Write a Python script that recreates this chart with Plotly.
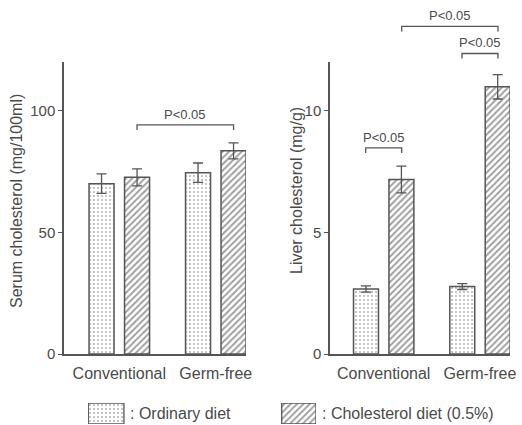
import plotly.graph_objects as go

# ---------------- data ----------------
categories = ["Conventional", "Germ-free"]
serum_ordinary = [70.0, 74.5]
serum_ordinary_err = [4.0, 4.0]
serum_chol = [72.6, 83.5]
serum_chol_err = [3.5, 3.3]
liver_ordinary = [2.67, 2.77]
liver_ordinary_err = [0.13, 0.12]
liver_chol = [7.17, 10.98]
liver_chol_err = [0.55, 0.50]
serum_ticks = [0, 50, 100]
liver_ticks = [0, 5, 10]
legend_labels = [": Ordinary diet", ": Cholesterol diet (0.5%)"]
sig_label = "P<0.05"

# ---------------- style ----------------
W, H = 522, 425
FONT = "Liberation Sans, Arial, sans-serif"
INK = "#4a4a4a"
LINE = "#555555"
DOT_C, HATCH_C = "#666666", "#3a3a3a"
DOTS = dict(shape=".", bgcolor="white", fgcolor=DOT_C, size=4, solidity=0.2)
HATCH = dict(shape="/", bgcolor="white", fgcolor=HATCH_C, size=4.5, solidity=0.4)


def px(x):
    return x / W


def py(y):
    return (H - y) / H


fig = go.Figure()


def add_bars(xa, ya, vals, errs, pattern, name):
    fig.add_trace(go.Bar(
        x=categories, y=vals, name=name, xaxis=xa, yaxis=ya,
        marker=dict(color="white", line=dict(color=LINE, width=1.5), pattern=pattern),
        error_y=dict(type="data", array=errs, visible=True, color=LINE,
                     thickness=1.3, width=5),
        showlegend=False,
    ))


add_bars("x", "y", serum_ordinary, serum_ordinary_err, DOTS, "Ordinary diet")
add_bars("x", "y", serum_chol, serum_chol_err, HATCH, "Cholesterol diet (0.5%)")
add_bars("x2", "y2", liver_ordinary, liver_ordinary_err, DOTS, "Ordinary diet")
add_bars("x2", "y2", liver_chol, liver_chol_err, HATCH, "Cholesterol diet (0.5%)")

# legend swatches drawn as bars on an auxiliary axis
fig.add_trace(go.Bar(
    x=[0, 1], y=[1, 1], width=[0.185, 0.178], xaxis="x3", yaxis="y3",
    marker=dict(color="white", line=dict(color=LINE, width=1.3),
                pattern=dict(shape=[".", "/"], bgcolor="white",
                             fgcolor=[DOT_C, HATCH_C], size=[4, 4.5],
                             solidity=[0.2, 0.4])),
    showlegend=False, hoverinfo="skip",
))

ydom = [py(354), py(62)]
axis_common = dict(showgrid=False, zeroline=False, showline=True,
                   linecolor=LINE, linewidth=1.5)
fig.update_layout(
    width=W, height=H, margin=dict(l=0, r=0, t=0, b=0),
    paper_bgcolor="white", plot_bgcolor="white",
    barmode="group", bargap=0.264, bargroupgap=0.296,
    font=dict(family=FONT, color=INK, size=16),
    xaxis=dict(domain=[px(64), px(246)], range=[-0.573, 1.313], ticks="",
               tickfont=dict(size=16), ticklabelstandoff=4, automargin=False,
               **axis_common),
    yaxis=dict(domain=ydom, range=[0, 120], tickvals=serum_ticks, ticks="outside",
               ticklen=4, tickcolor=LINE, tickwidth=1.3, tickfont=dict(size=15),
               automargin=False, **axis_common),
    xaxis2=dict(domain=[px(330), px(510)], range=[-0.558, 1.312], ticks="",
                tickfont=dict(size=16), ticklabelstandoff=4, automargin=False,
                anchor="y2", **axis_common),
    yaxis2=dict(domain=ydom, range=[0, 12], tickvals=liver_ticks, ticks="outside",
                ticklen=4, tickcolor=LINE, tickwidth=1.3, tickfont=dict(size=15),
                automargin=False, anchor="x2", **axis_common),
    xaxis3=dict(domain=[px(88), px(316)], range=[-0.094, 1.089], visible=False,
                anchor="y3"),
    yaxis3=dict(domain=[py(424), py(403)], range=[0, 1], visible=False, anchor="x3"),
)

# axis titles
fig.add_annotation(text="Serum cholesterol (mg/100ml)", x=px(17), y=py(201),
                   xref="paper", yref="paper", textangle=-90, showarrow=False,
                   xanchor="center", yanchor="middle", font=dict(size=16))
fig.add_annotation(text="Liver cholesterol (mg/g)", x=px(296), y=py(191),
                   xref="paper", yref="paper", textangle=-90, showarrow=False,
                   xanchor="center", yanchor="middle", font=dict(size=16))

# legend texts
fig.add_annotation(text=legend_labels[0], x=px(128), y=py(413), xref="paper",
                   yref="paper", xanchor="left", yanchor="middle", showarrow=False,
                   font=dict(size=16))
fig.add_annotation(text=legend_labels[1], x=px(320), y=py(413), xref="paper",
                   yref="paper", xanchor="left", yanchor="middle", showarrow=False,
                   font=dict(size=16))

# significance brackets: (xaxis, yaxis, ymax, x_from, x_to, level, drop)
off_l = 35.5 / 96.5 / 2
off_r = 36.0 / 96.25 / 2
brackets = [
    ("x", "y", 120, 0 + off_l, 1 + off_l, 94.2, 2.1),
    ("x2", "y2", 12, 0 - off_r, 0 + off_r, 8.47, 0.21),
    ("x2", "y2", 12, 1 - off_r, 1 + off_r, 12.35, 0.21),
    ("x2", "y2", 12, 0 + off_r, 1 + off_r, 13.46, 0.21),
]
for xa, ya, ymax, x0, x1, lvl, drop in brackets:
    yd = ya + " domain"
    fig.add_shape(type="path", xref=xa, yref=yd,
                  path=f"M {x0} {(lvl - drop) / ymax} L {x0} {lvl / ymax} "
                       f"L {x1} {lvl / ymax} L {x1} {(lvl - drop) / ymax}",
                  line=dict(color=LINE, width=1.3))
    fig.add_annotation(text=sig_label, x=(x0 + x1) / 2, y=lvl / ymax, xref=xa, yref=yd,
                       yanchor="bottom", yshift=1, showarrow=False,
                       font=dict(size=13))

fig.write_html("out.html")
